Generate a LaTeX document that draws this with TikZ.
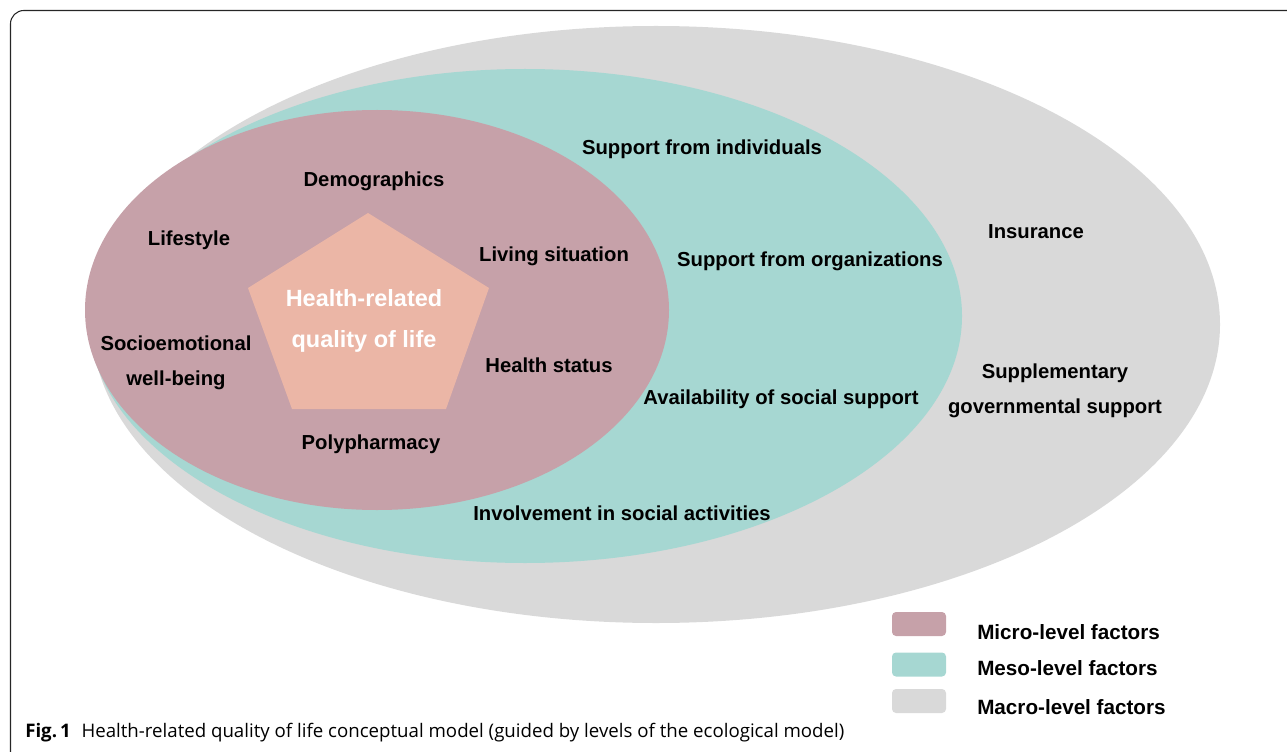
\documentclass[tikz,border=0pt]{standalone}
\usepackage{fontspec}
\setmainfont{Liberation Sans}
\newfontfamily\capfont{Open Sans}
\usetikzlibrary{positioning}

\definecolor{microcol}{HTML}{C6A1A9}
\definecolor{mesocol}{HTML}{A6D7D2}
\definecolor{macrocol}{HTML}{D9D9D9}
\definecolor{corecol}{HTML}{EBB6A6}

\begin{document}
\begin{tikzpicture}[
    x=0.75pt,
    y=-0.75pt,
    factor/.style={
        align=center,
        inner sep=0pt,
        font=\fontsize{15.2}{26.25}\selectfont\bfseries
    },
    core/.style={
        align=center,
        inner sep=0pt,
        text=white,
        font=\fontsize{17.6}{30.75}\selectfont\bfseries
    },
    keybox/.style={
        rounded corners=3pt,
        minimum width=40.5pt,
        minimum height=18pt,
        inner sep=0pt
    },
    keytext/.style={
        anchor=west,
        inner sep=0pt,
        font=\fontsize{15.5}{18}\selectfont\bfseries
    }
]
\useasboundingbox (0,0) rectangle (1287,752);
\clip (0,0) rectangle (1287,752);

% Frame
\draw [line width=0.8pt, rounded corners=10pt, black!85] (1300,10.5) -- (10.5,10.5) -- (10.5,770);

% Levels
\fill [macrocol] (656,324.5) ellipse [x radius=564, y radius=298.5];
\fill [mesocol] (525,316) ellipse [x radius=437, y radius=247];
\fill [microcol] (377,310) ellipse [x radius=292, y radius=200];
\fill [corecol] (368,213) -- (489,288) -- (446,409) -- (292,409) -- (248,288) -- cycle;

% Micro-level nodes
\node [core] (hrqol) at (364,321) {Health-related\\quality of life};
\node [factor] (demo) at (374,181) {Demographics};
\node [factor] (life) at (189,240) {Lifestyle};
\node [factor] (living) at (554,256) {Living situation};
\node [factor] (socio) at (176,363) {Socioemotional\\well-being};
\node [factor] (hstatus) at (549,365) {Health status};
\node [factor] (poly) at (371,444) {Polypharmacy};

% Meso-level nodes
\node [factor] (indiv) at (702,149) {Support from individuals};
\node [factor] (orgs) at (810,261) {Support from organizations};
\node [factor] (avail) at (781,399) {Availability of social support};
\node [factor] (involve) at (622,513) {Involvement in social activities};

% Macro-level nodes
\node [factor] (insur) at (1036,232) {Insurance};
\node [factor] (suppl) at (1055,391) {Supplementary\\governmental support};

% Legend
\node [keybox, fill=microcol] (keymicro) at (919,624) {};
\node [keybox, fill=mesocol] (keymeso) at (919,664.5) {};
\node [keybox, fill=macrocol] (keymacro) at (919,701) {};
\node [keytext] (txtmicro) at (977,632) {Micro-level factors};
\node [keytext] (txtmeso) at (977,668) {Meso-level factors};
\node [keytext] (txtmacro) at (977,707) {Macro-level factors};

% Caption
\node [anchor=west, inner sep=0pt, font=\capfont\fontsize{14}{16}\selectfont] (caption) at (25,733)
    {\textbf{Fig.\,1}\hspace{8pt}Health-related quality of life conceptual model (guided by levels of the ecological model)};

\end{tikzpicture}
\end{document}
